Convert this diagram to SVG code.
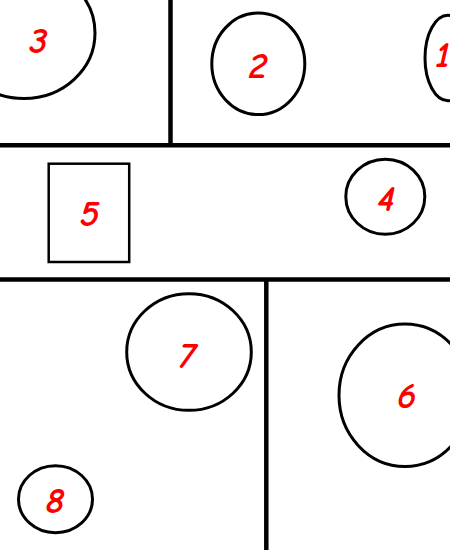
<svg xmlns="http://www.w3.org/2000/svg" width="450" height="550" viewBox="0 0 450 550">
<style>
.shape{fill:none;stroke:#000;stroke-width:3}
.box{fill:none;stroke:#000;stroke-width:2.5}
.div{stroke:#000;stroke-width:4.5;fill:none}
.lbl{fill:#ff0000;font-family:"Comic Sans MS","Comic Neue","Liberation Sans",sans-serif;font-style:italic;font-weight:bold;font-size:37px;text-anchor:middle}
</style>
<rect width="450" height="550" fill="#fff"/>
<g id="dividers">
<line class="div" x1="0" y1="145.3" x2="450" y2="145.3"/>
<line class="div" x1="170.5" y1="0" x2="170.5" y2="145.3"/>
<line class="div" x1="0" y1="279.5" x2="450" y2="279.5"/>
<line class="div" x1="266.3" y1="279.5" x2="266.3" y2="550"/>
</g>
<g id="node3"><ellipse class="shape" cx="24" cy="33" rx="71" ry="65.5"/><text class="lbl" x="38.5" y="53.3">3</text></g>
<g id="node2"><ellipse class="shape" cx="258.3" cy="63.8" rx="46.5" ry="50.8"/><text class="lbl" x="258" y="77.8">2</text></g>
<g id="node1"><ellipse class="shape" cx="448" cy="58" rx="23" ry="42.7"/><text class="lbl" x="443" y="66.5">1</text></g>
<g id="node5"><rect class="box" x="48.7" y="163.7" width="80.5" height="98.3"/><text class="lbl" x="89.5" y="226">5</text></g>
<g id="node4"><ellipse class="shape" cx="385.3" cy="196.7" rx="39.5" ry="37.5"/><text class="lbl" x="386" y="210.5">4</text></g>
<g id="node7"><ellipse class="shape" cx="189" cy="352" rx="62.3" ry="58.3"/><text class="lbl" x="187.5" y="368">7</text></g>
<g id="node8"><ellipse class="shape" cx="55.5" cy="499.2" rx="37" ry="33.5"/><text class="lbl" x="55" y="512.7">8</text></g>
<g id="node6"><ellipse class="shape" cx="405" cy="395.3" rx="66" ry="71.2"/><text class="lbl" x="406.7" y="407.7">6</text></g>
</svg>
